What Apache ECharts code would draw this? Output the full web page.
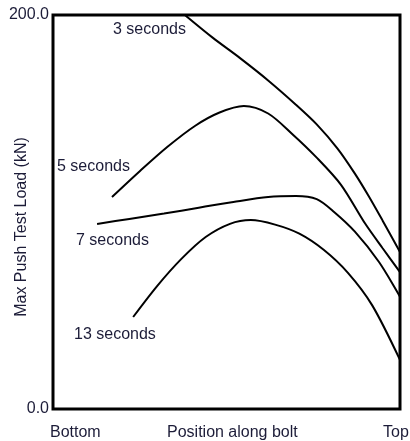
<!DOCTYPE html>
<html><head><meta charset="utf-8">
<script src="https://cdn.jsdelivr.net/npm/echarts@6/dist/echarts.min.js"></script>
<style>html,body{margin:0;padding:0;background:#fff}#c{width:410px;height:441px}</style>
</head><body><div id="c"></div>
<script>
var seriesNames = ['3 seconds', '5 seconds', '7 seconds', '13 seconds'];
var s3 = [[38,200],[46,188.5],[54,178],[62,166.8],[70,154.5],[76,144.5],[82,132.2],[87,119.5],[91,108],[95,95.6],[100,79.7]];
var s5 = [[17,107.6],[25,120.7],[33,133.1],[41,143.8],[48,150.5],[55,153.8],[62,150],[69,139.5],[76,127.6],[83,113.8],[90,94],[95,81.6],[100,69.5]];
var s7 = [[12.7,93.9],[22,96.5],[32,99.2],[42,102.2],[52,105.1],[62,107.6],[70,108.1],[76,106.5],[81,100],[87,90],[94,74.5],[100,57]];
var s13 = [[23.1,46.7],[30,62.4],[37,76.2],[44,87.3],[51,94],[57,95.9],[64,93.6],[71,89],[78,80.8],[85,69.1],[92,52.6],[100,24.9]];
var xLabels = ['Bottom', 'Position along bolt', 'Top'];
var yTitle = 'Max Push Test Load (kN)';
var yMin = 0, yMax = 200;

var txtColor = '#1c1c38';
var font = 'Liberation Sans, Arial, sans-serif';
var chart = echarts.init(document.getElementById('c'));
function mk(name, data){
  return {name:name, type:'line', data:data, smooth:0.3, symbol:'none',
    lineStyle:{color:'#000', width:2}, z:3};
}
var labelPos = [[113,22],[57,159],[76,233],[74,327]];
var graphics = [];
seriesNames.forEach(function(n,i){
  graphics.push({type:'text', left:labelPos[i][0], top:labelPos[i][1],
    style:{text:n, fill:txtColor, font:'16px '+font}});
});
graphics.push({type:'text', left:50, top:425, style:{text:xLabels[0], fill:txtColor, font:'16px '+font}});
graphics.push({type:'text', left:167, top:425, style:{text:xLabels[1], fill:txtColor, font:'16px '+font}});
graphics.push({type:'text', left:383, top:425, style:{text:xLabels[2], fill:txtColor, font:'16px '+font}});
graphics.push({type:'text', x:22, y:227, rotation:Math.PI/2,
  style:{text:yTitle, fill:txtColor, font:'16px '+font, align:'center', verticalAlign:'middle'}});

chart.setOption({
  animation:false,
  grid:{left:53, right:10, top:15, bottom:32, show:true, borderColor:'#000', borderWidth:3, backgroundColor:'transparent'},
  xAxis:{type:'value', min:0, max:100, axisLine:{show:false}, axisTick:{show:false}, axisLabel:{show:false}, splitLine:{show:false}},
  yAxis:{type:'value', min:yMin, max:yMax, interval:200, axisLine:{show:false}, axisTick:{show:false}, splitLine:{show:false},
    axisLabel:{formatter:function(v){return v.toFixed(1);}, color:txtColor, fontSize:16, fontFamily:font, margin:4}},
  series:[mk(seriesNames[0],s3), mk(seriesNames[1],s5), mk(seriesNames[2],s7), mk(seriesNames[3],s13)],
  graphic:graphics
});
</script></body></html>
